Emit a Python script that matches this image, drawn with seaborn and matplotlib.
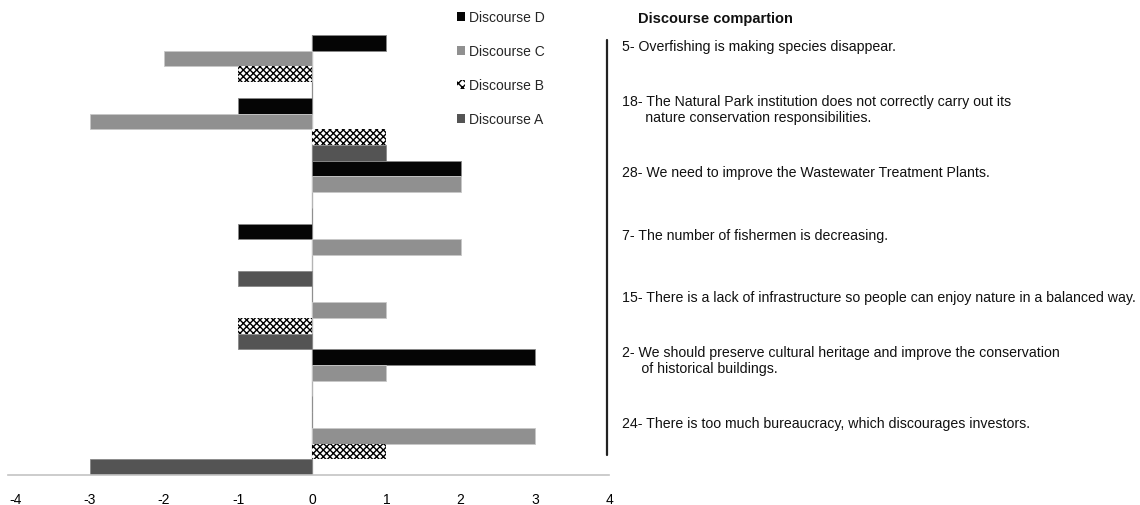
import matplotlib
matplotlib.use("Agg")
import matplotlib.pyplot as plt
import pandas as pd
import seaborn as sns
from matplotlib.lines import Line2D
from matplotlib.patches import Patch
from matplotlib.transforms import blended_transform_factory

statement_ids = ["5", "18", "28", "7", "15", "2", "24"]
statements = [
    "5- Overfishing is making species disappear.",
    "18- The Natural Park institution does not correctly carry out its\n      nature conservation responsibilities.",
    "28- We need to improve the Wastewater Treatment Plants.",
    "7- The number of fishermen is decreasing.",
    "15- There is a lack of infrastructure so people can enjoy nature in a balanced way.",
    "2- We should preserve cultural heritage and improve the conservation\n     of historical buildings.",
    "24- There is too much bureaucracy, which discourages investors.",
]
discourse_d = [1, -1, 2, -1, 0, 3, 0]
discourse_c = [-2, -3, 2, 2, 1, 1, 3]
discourse_b = [-1, 1, 0, 0, -1, 0, 1]
discourse_a = [0, 1, 0, -1, -1, 0, -3]
series_names = ["Discourse D", "Discourse C", "Discourse B", "Discourse A"]
x_ticks = [-4, -3, -2, -1, 0, 1, 2, 3, 4]

rows = []
for name, vals in zip(series_names, [discourse_d, discourse_c, discourse_b, discourse_a]):
    for sid, v in zip(statement_ids, vals):
        rows.append({"statement": sid, "discourse": name, "score": v})
df = pd.DataFrame(rows)

sns.set_theme(style="white")
plt.rcParams["font.family"] = ["Liberation Sans", "DejaVu Sans"]

palette = {
    "Discourse D": "#050505",
    "Discourse C": "#909090",
    "Discourse B": "#ffffff",
    "Discourse A": "#545454",
}

W, H = 1140, 506
fig = plt.figure(figsize=(W / 100, H / 100), dpi=100)
ax = fig.add_axes([8 / W, (H - 476) / H, 601 / W, 440 / H])

sns.barplot(
    data=df,
    x="score",
    y="statement",
    hue="discourse",
    hue_order=series_names,
    order=statement_ids,
    orient="h",
    width=1.0,
    gap=0,
    palette=palette,
    saturation=1,
    errorbar=None,
    legend=False,
    ax=ax,
)

edge_cols = ["#888888", "#c8c8c8", "#000000", "#888888"]
for cont, ec, name in zip(ax.containers, edge_cols, series_names):
    for bar in cont:
        if name == "Discourse B":
            bar.set_hatch("xxxxx")
            bar.set_edgecolor("#000000")
            bar.set_linewidth(0)
        else:
            bar.set_edgecolor(ec)
            bar.set_linewidth(0.6)

ax.set_xlim(-4.1, 4)
ax.set_ylim(6.5, -0.5)
ax.set_xticks(x_ticks)
ax.set_xticklabels([str(t) for t in x_ticks])
ax.set_yticks([])
ax.set_xlabel("")
ax.set_ylabel("")
ax.tick_params(axis="x", length=0, pad=12, labelsize=10, colors="#000000")
for s in ["top", "right", "left"]:
    ax.spines[s].set_visible(False)
ax.spines["bottom"].set_color("#c4c4c4")
ax.spines["bottom"].set_linewidth(1.2)
ax.axvline(0, color="#b4b4b4", lw=1.0, zorder=0.5)

# statements on the right
tr = blended_transform_factory(fig.transFigure, ax.transData)
for i, txt in enumerate(statements):
    ax.text(622 / W, i - 0.325, txt, transform=tr, ha="left", va="center",
            fontsize=10.2, color="#111111", linespacing=1.22, clip_on=False)

fig.text(638 / W, 1 - 19 / H, "Discourse compartion", fontsize=10.5,
         fontweight="bold", ha="left", va="center", color="#111111")

fig.add_artist(Line2D([607 / W, 607 / W], [1 - 41 / H, 1 - 456 / H],
                      transform=fig.transFigure, color="#222222", lw=1.6))

handles = [
    Patch(facecolor="#050505", edgecolor="none"),
    Patch(facecolor="#909090", edgecolor="none"),
    Patch(facecolor="#ffffff", edgecolor="#000000", hatch="xxxx", linewidth=0),
    Patch(facecolor="#545454", edgecolor="none"),
]
fig.legend(
    handles,
    series_names,
    loc="upper left",
    bbox_to_anchor=(457 / W, 1 - 11 / H),
    frameon=False,
    fontsize=10,
    handlelength=0.6,
    handleheight=0.6,
    handletextpad=0.25,
    labelspacing=1.45,
    borderpad=0,
    borderaxespad=0,
)

fig.savefig("out.png", dpi=100)
